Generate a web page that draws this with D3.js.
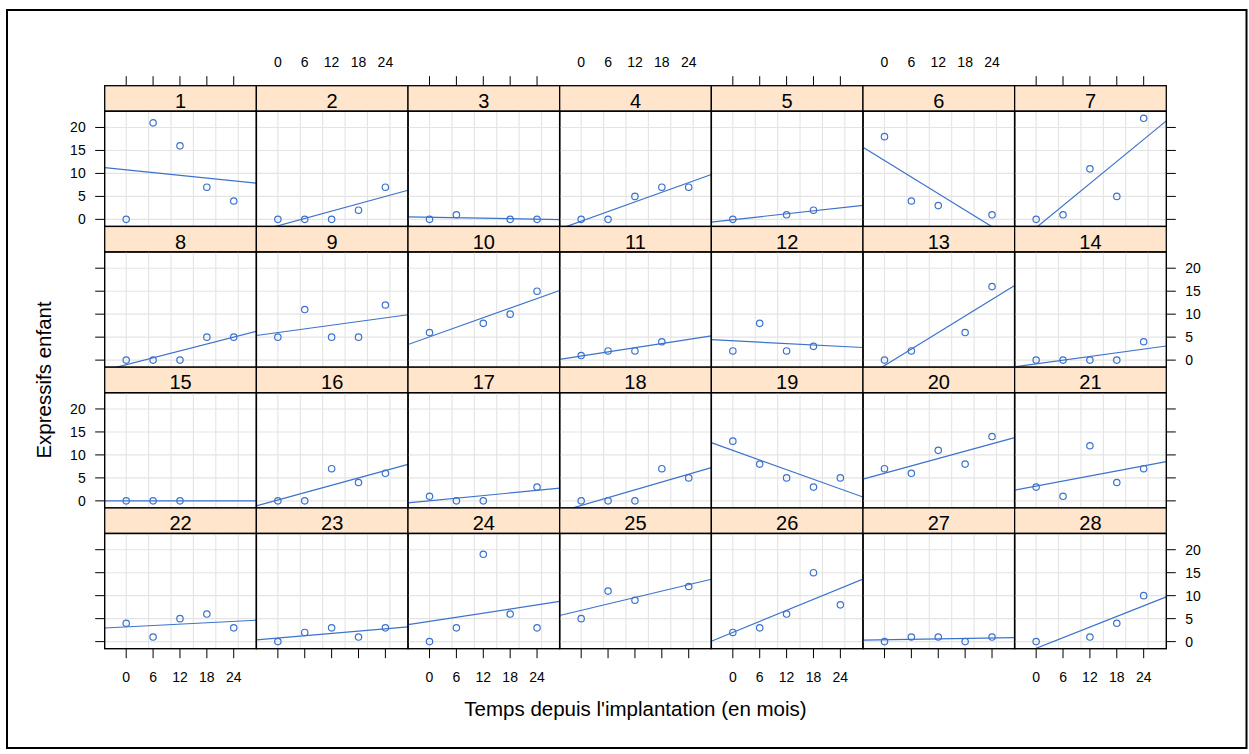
<!DOCTYPE html>
<html><head><meta charset="utf-8">
<script src="https://cdn.jsdelivr.net/npm/d3@7"></script>
<style>
body{margin:0;background:#fff}
svg{display:block}
text{font-family:"Liberation Sans",Arial,Helvetica,sans-serif;fill:#000}
</style>
</head><body>
<svg id="chart" width="1249" height="754"></svg>
<script>
// ---------- data ----------
const months = [0, 6, 12, 18, 24];
const subjects = ["1","2","3","4","5","6","7","8","9","10","11","12","13","14",
                  "15","16","17","18","19","20","21","22","23","24","25","26","27","28"];
// Expressifs enfant per subject at 0, 6, 12, 18, 24 months (null = missing)
const expressifs = [
  [0,21,16,7,4],
  [0,0,0,2,7],
  [0,1,null,0,0],
  [0,0,5,7,7],
  [0,null,1,2,null],
  [18,4,3,null,1],
  [0,1,11,5,22],
  [0,0,0,5,5],
  [5,11,5,5,12],
  [6,null,8,10,15],
  [1,2,2,4,null],
  [2,8,2,3,null],
  [0,2,null,6,16],
  [0,0,0,0,4],
  [0,0,0,null,null],
  [0,0,7,4,6],
  [1,0,0,null,3],
  [0,0,0,7,5],
  [13,8,5,3,5],
  [7,6,11,8,14],
  [3,1,12,4,7],
  [4,1,5,6,3],
  [0,2,3,1,3],
  [0,3,19,6,3],
  [5,11,9,null,12],
  [2,3,6,15,8],
  [0,1,1,0,1],
  [0,null,1,4,10]
];
const xTickLabels = [0, 6, 12, 18, 24];
const yTickLabels = [0, 5, 10, 15, 20];
const xGrid = [0, 5, 10, 15, 20, 25];
const yGrid = [0, 5, 10, 15, 20];
const xTitle = "Temps depuis l'implantation (en mois)";
const yTitle = "Expressifs enfant";

// ---------- layout ----------
const W = 1249, H = 754;
const nCol = 7, nRow = 4;
const pLeft = 104.7, pRight = 1166.3, pTop = 85.7, pBottom = 648.7;
const colW = (pRight - pLeft) / nCol;
const rowH = (pBottom - pTop) / nRow;
const stripH = 25.5;
const panelH = rowH - stripH;
const blue = "#3d72cc";
const tickLen = 9.5;

const svg = d3.select("#chart");
svg.append("rect").attr("x",0).attr("y",0).attr("width",W).attr("height",H).attr("fill","#fff");
svg.append("rect").attr("x",7).attr("y",10).attr("width",1239.5).attr("height",738)
  .attr("fill","none").attr("stroke","#000").attr("stroke-width",2);

const x = d3.scaleLinear().domain([-4.8, 29.05]).range([0, colW]);
const y = d3.scaleLinear().domain([-1.54, 23.54]).range([panelH, 0]);

const defs = svg.append("defs");

function lmFit(pts) {
  const mx = d3.mean(pts, d => d[0]), my = d3.mean(pts, d => d[1]);
  const sxy = d3.sum(pts, d => (d[0]-mx)*(d[1]-my));
  const sxx = d3.sum(pts, d => (d[0]-mx)*(d[0]-mx));
  const b = sxx === 0 ? 0 : sxy / sxx;
  return {a: my - b*mx, b};
}

subjects.forEach((s, i) => {
  const col = i % nCol, row = Math.floor(i / nCol);
  const px = pLeft + col*colW, sy = pTop + row*rowH, py = sy + stripH;

  // strip
  const st = svg.append("g").attr("transform", `translate(${px},${sy})`);
  st.append("rect").attr("width", colW).attr("height", stripH)
    .attr("fill", "#ffe5cc").attr("stroke", "#000").attr("stroke-width", 1.3);
  st.append("text").attr("x", colW/2).attr("y", 22.3)
    .attr("text-anchor","middle").attr("font-size", 20).text(s);

  // panel
  const g = svg.append("g").attr("transform", `translate(${px},${py})`);
  const cid = "clip" + i;
  defs.append("clipPath").attr("id", cid).append("rect")
    .attr("width", colW).attr("height", panelH);
  const inner = g.append("g").attr("clip-path", `url(#${cid})`);

  inner.selectAll(".gx").data(xGrid).join("line")
    .attr("x1", d => x(d)).attr("x2", d => x(d)).attr("y1", 0).attr("y2", panelH)
    .attr("stroke", "#e4e4e4").attr("stroke-width", 1.1);
  inner.selectAll(".gy").data(yGrid).join("line")
    .attr("y1", d => y(d)).attr("y2", d => y(d)).attr("x1", 0).attr("x2", colW)
    .attr("stroke", "#e4e4e4").attr("stroke-width", 1.1);

  const pts = months.map((m, k) => [m, expressifs[i][k]]).filter(d => d[1] !== null);

  inner.selectAll("circle").data(pts).join("circle")
    .attr("cx", d => x(d[0])).attr("cy", d => y(d[1])).attr("r", 3.2)
    .attr("fill", "none").attr("stroke", blue).attr("stroke-width", 1.2);

  const fit = lmFit(pts);
  const [d0, d1] = x.domain();
  inner.append("line")
    .attr("x1", x(d0)).attr("y1", y(fit.a + fit.b*d0))
    .attr("x2", x(d1)).attr("y2", y(fit.a + fit.b*d1))
    .attr("stroke", blue).attr("stroke-width", 1.2);

  g.append("rect").attr("width", colW).attr("height", panelH)
    .attr("fill", "none").attr("stroke", "#000").attr("stroke-width", 1.4);

  // bottom axis (last row): ticks all; labels on columns 1,3,5,7
  if (row === nRow - 1) {
    g.selectAll(".bt").data(xTickLabels).join("line")
      .attr("x1", d => x(d)).attr("x2", d => x(d))
      .attr("y1", panelH).attr("y2", panelH + tickLen)
      .attr("stroke", "#000").attr("stroke-width", 1);
    if (col % 2 === 0) {
      g.selectAll(".bl").data(xTickLabels).join("text")
        .attr("x", d => x(d)).attr("y", panelH + 33)
        .attr("text-anchor","middle").attr("font-size", 14).text(d => d);
    }
  }
  // top axis (first row): ticks on columns 1,3,5,7, labels on 2,4,6
  if (row === 0) {
    if (col % 2 === 0) {
      st.selectAll(".tt").data(xTickLabels).join("line")
        .attr("x1", d => x(d)).attr("x2", d => x(d))
        .attr("y1", 0).attr("y2", -tickLen)
        .attr("stroke", "#000").attr("stroke-width", 1);
    } else {
      st.selectAll(".tl").data(xTickLabels).join("text")
        .attr("x", d => x(d)).attr("y", -19)
        .attr("text-anchor","middle").attr("font-size", 14).text(d => d);
    }
  }
  // left axis
  if (col === 0) {
    g.selectAll(".lt").data(yTickLabels).join("line")
      .attr("x1", -tickLen).attr("x2", 0).attr("y1", d => y(d)).attr("y2", d => y(d))
      .attr("stroke", "#000").attr("stroke-width", 1);
    if (row % 2 === 0) {
      g.selectAll(".ll").data(yTickLabels).join("text")
        .attr("x", -19).attr("y", d => y(d) + 5)
        .attr("text-anchor","end").attr("font-size", 14).text(d => d);
    }
  }
  // right axis
  if (col === nCol - 1) {
    g.selectAll(".rt").data(yTickLabels).join("line")
      .attr("x1", colW).attr("x2", colW + tickLen).attr("y1", d => y(d)).attr("y2", d => y(d))
      .attr("stroke", "#000").attr("stroke-width", 1);
    if (row % 2 === 1) {
      g.selectAll(".rl").data(yTickLabels).join("text")
        .attr("x", colW + 19).attr("y", d => y(d) + 5)
        .attr("text-anchor","start").attr("font-size", 14).text(d => d);
    }
  }
});

// axis titles
svg.append("text").attr("x", (pLeft + pRight)/2).attr("y", 716)
  .attr("text-anchor","middle").attr("font-size", 20.5).text(xTitle);
svg.append("text").attr("transform", `translate(51,${(pTop + stripH + pBottom)/2}) rotate(-90)`)
  .attr("text-anchor","middle").attr("font-size", 20.5).text(yTitle);
</script>
</body></html>
